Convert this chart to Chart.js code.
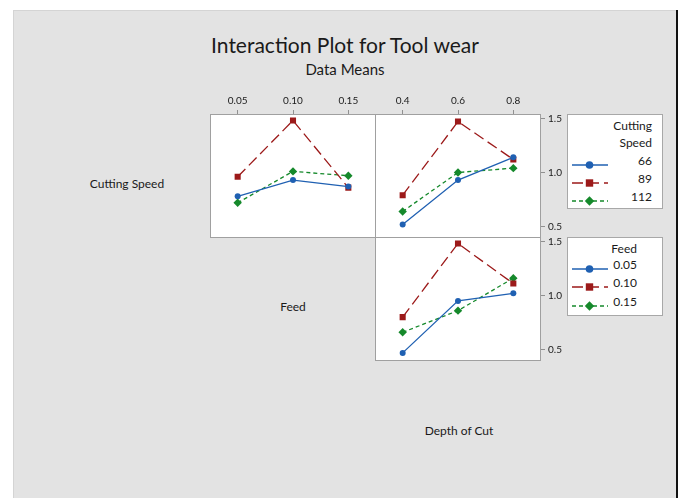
<!DOCTYPE html>
<html>
<head>
<meta charset="utf-8">
<script src="https://cdn.jsdelivr.net/npm/chart.js@4.4.1/dist/chart.umd.min.js"></script>
<style>
  html, body { margin:0; padding:0; background:#ffffff; }
  body { width:680px; height:498px; position:relative; overflow:hidden; font-family: Lato, "Noto Sans", sans-serif; color:#1a1a1a; }
  #bg { position:absolute; left:13px; top:10px; width:663px; height:488px; background:#e3e3e3; border-top:1px solid #d4d4d4; border-left:1px solid #d4d4d4; box-sizing:border-box; }
  #edge { position:absolute; left:676px; top:10px; width:2px; height:488px; background:#111; }
  .txt { position:absolute; white-space:nowrap; transform:translate(-50%,-50%); line-height:1; }
  canvas { position:absolute; }
  .legend { position:absolute; background:#fff; border:1px solid #a8a8a8; box-sizing:border-box; }
  .lt { position:absolute; white-space:nowrap; font-size:12px; line-height:1; transform:translateY(-50%); }
  .sym { position:absolute; }
</style>
</head>
<body>
<div id="bg"></div>
<div id="edge"></div>
<div class="txt" style="left:345px;top:44px;font-size:21px;">Interaction Plot for Tool wear</div>
<div class="txt" style="left:345px;top:69px;font-size:15px;">Data Means</div>
<div class="txt" style="left:127px;top:184px;font-size:12px;">Cutting Speed</div>
<div class="txt" style="left:293px;top:307px;font-size:12px;">Feed</div>
<div class="txt" style="left:459px;top:431px;font-size:12px;">Depth of Cut</div>

<canvas id="cA" width="166" height="150" style="left:210px;top:88px;"></canvas>
<canvas id="cB" width="190" height="150" style="left:375px;top:88px;"></canvas>
<canvas id="cC" width="190" height="124" style="left:375px;top:237px;"></canvas>

<div id="leg1" class="legend" style="left:567px;top:114px;width:96px;height:95px;"></div>
<div id="leg2" class="legend" style="left:567px;top:237px;width:96px;height:79px;"></div>

<script>
// ---- data ----
const feedLabels = ['0.05', '0.10', '0.15'];
const depthLabels = ['0.4', '0.6', '0.8'];
const speedLevels = ['66', '89', '112'];
const feedLevels = ['0.05', '0.10', '0.15'];
const yTicks = [0.5, 1.0, 1.5];

// Cutting Speed x Feed means
const speed66ByFeed  = [0.78, 0.93, 0.87];
const speed89ByFeed  = [0.96, 1.48, 0.86];
const speed112ByFeed = [0.72, 1.01, 0.97];
// Cutting Speed x Depth of Cut means
const speed66ByDepth  = [0.52, 0.93, 1.14];
const speed89ByDepth  = [0.79, 1.47, 1.12];
const speed112ByDepth = [0.64, 1.00, 1.04];
// Feed x Depth of Cut means
const feed005ByDepth = [0.47, 0.95, 1.02];
const feed010ByDepth = [0.80, 1.48, 1.11];
const feed015ByDepth = [0.66, 0.86, 1.16];

// ---- styles ----
const BLUE = '#1f60b2', RED = '#9c1a1a', GREEN = '#15892b';
const styles = [
  { color: BLUE,  dash: [],      point: 'circle',  r: 3 },
  { color: RED,   dash: [11, 5], point: 'rect',    r: 4.3 },
  { color: GREEN, dash: [4, 3],  point: 'rectRot', r: 4.2 }
];
const YMIN = 0.395, YMAX = 1.54;
const FONT = { family: 'Lato, "Noto Sans", sans-serif', size: 10 };

function ds(label, data, i) {
  const s = styles[i];
  return {
    label, data,
    borderColor: s.color, backgroundColor: s.color,
    borderWidth: 1.3, borderDash: s.dash,
    pointStyle: s.point, pointRadius: s.r, pointHoverRadius: s.r,
    pointBorderWidth: 0, tension: 0
  };
}

const framePlugin = {
  id: 'frame',
  beforeDraw(chart) {
    const a = chart.chartArea, ctx = chart.ctx;
    ctx.save();
    ctx.fillStyle = '#ffffff';
    ctx.fillRect(a.left, a.top, a.right - a.left, a.bottom - a.top);
    ctx.strokeStyle = '#a0a0a0';
    ctx.lineWidth = 1;
    ctx.strokeRect(a.left + 0.5, a.top + 0.5, a.right - a.left - 1, a.bottom - a.top - 1);
    ctx.restore();
  }
};

function makeChart(id, labels, datasets, showX, showY) {
  const xOpts = {
    type: 'category', position: 'top', offset: true, display: showX,
    grid: { drawOnChartArea: false, drawTicks: true, tickLength: 4, color: '#909090' },
    border: { display: false },
    ticks: { font: FONT, color: '#1a1a1a', padding: 3, maxRotation: 0, autoSkip: false }
  };
  if (showX) xOpts.afterFit = s => { s.height = 26; s.paddingLeft = 0; s.paddingRight = 0; };
  const yOpts = {
    type: 'linear', position: 'right', min: YMIN, max: YMAX, display: showY,
    grid: { drawOnChartArea: false, drawTicks: true, tickLength: 4, color: '#909090' },
    border: { display: false },
    afterBuildTicks(s) { s.ticks = yTicks.map(v => ({ value: v })); },
    ticks: { font: FONT, color: '#1a1a1a', padding: 3, callback: v => Number(v).toFixed(1) }
  };
  if (showY) yOpts.afterFit = s => { s.width = 24; s.paddingTop = 0; s.paddingBottom = 0; };
  return new Chart(document.getElementById(id), {
    type: 'line',
    data: { labels, datasets },
    plugins: [framePlugin],
    options: {
      responsive: false, animation: false, devicePixelRatio: 1,
      layout: { padding: 0, autoPadding: false },
      plugins: { legend: { display: false }, tooltip: { enabled: false }, title: { display: false } },
      scales: { x: xOpts, y: yOpts }
    }
  });
}

makeChart('cA', feedLabels, [
  ds(speedLevels[0], speed66ByFeed, 0),
  ds(speedLevels[1], speed89ByFeed, 1),
  ds(speedLevels[2], speed112ByFeed, 2)
], true, false);

makeChart('cB', depthLabels, [
  ds(speedLevels[0], speed66ByDepth, 0),
  ds(speedLevels[1], speed89ByDepth, 1),
  ds(speedLevels[2], speed112ByDepth, 2)
], true, true);

makeChart('cC', depthLabels, [
  ds(feedLevels[0], feed005ByDepth, 0),
  ds(feedLevels[1], feed010ByDepth, 1),
  ds(feedLevels[2], feed015ByDepth, 2)
], false, true);

// ---- legends ----
function symbol(i) {
  const s = styles[i];
  const dash = s.dash.length ? `stroke-dasharray="${s.dash.join(',')}"` : '';
  let m = '';
  if (s.point === 'circle') m = `<circle cx="17.5" cy="6" r="3.8" fill="${s.color}"/>`;
  else if (s.point === 'rect') m = `<rect x="13.8" y="2.3" width="7.4" height="7.4" fill="${s.color}"/>`;
  else m = `<polygon points="17.5,1.3 22.2,6 17.5,10.7 12.8,6" fill="${s.color}"/>`;
  return `<svg width="36" height="12" viewBox="0 0 36 12"><line x1="0" y1="6" x2="36" y2="6" stroke="${s.color}" stroke-width="1.3" ${dash}/>${m}</svg>`;
}
function buildLegend(el, titleLines, titleYs, items, itemYs, textRight) {
  const top = el.offsetTop, left = el.offsetLeft;
  let html = '';
  titleLines.forEach((t, k) => {
    html += `<div class="lt" style="right:${left + 96 - textRight}px;top:${titleYs[k] - top - 1}px;">${t}</div>`;
  });
  items.forEach((t, k) => {
    html += `<div class="sym" style="left:${572 - left - 1}px;top:${itemYs[k] - top - 7}px;">${symbol(k)}</div>`;
    html += `<div class="lt" style="right:${left + 96 - textRight}px;top:${itemYs[k] - top - 1}px;">${t}</div>`;
  });
  el.innerHTML = html;
}
buildLegend(document.getElementById('leg1'), ['Cutting', 'Speed'], [126, 143], speedLevels, [161, 179, 197], 653);
buildLegend(document.getElementById('leg2'), ['Feed'], [249], feedLevels, [265, 283, 302], 638);
</script>
</body>
</html>
